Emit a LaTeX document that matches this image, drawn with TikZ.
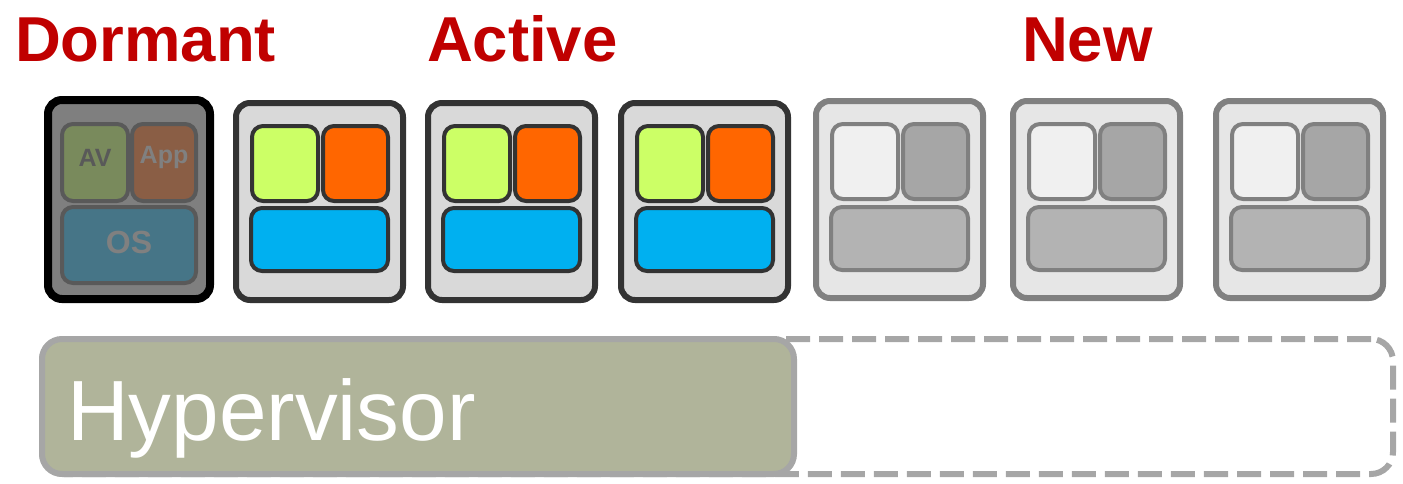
\documentclass[tikz,border=0pt]{standalone}
\usepackage{fontspec}
\setmainfont{Liberation Sans}
\definecolor{titlered}{HTML}{C00000}
\definecolor{dk}{HTML}{333333}
\definecolor{actbg}{HTML}{D9D9D9}
\definecolor{lime}{HTML}{CCFF66}
\definecolor{orng}{HTML}{FF6600}
\definecolor{sky}{HTML}{00B0F0}
\definecolor{newedge}{HTML}{808080}
\definecolor{newbg}{HTML}{E6E6E6}
\definecolor{newlight}{HTML}{F0F0F0}
\definecolor{newdark}{HTML}{A6A6A6}
\definecolor{newbot}{HTML}{B3B3B3}
\definecolor{dormbg}{HTML}{7F7F7F}
\definecolor{dormedge}{HTML}{595959}
\definecolor{avfill}{HTML}{798A5C}
\definecolor{appfill}{HTML}{8A5E45}
\definecolor{osfill}{HTML}{467587}
\definecolor{hypfill}{HTML}{B0B49A}
\definecolor{hypedge}{HTML}{A6A6A6}
\begin{document}
\begin{tikzpicture}[x=1pt,y=-1pt,
  every node/.style={inner sep=0pt, outer sep=0pt},
  titletext/.style={text=titlered, font=\fontsize{63.5}{63.5}\selectfont\bfseries, anchor=base west},
  frame/.style={rectangle, rounded corners=14pt, line width=6pt, minimum width=167pt, minimum height=197pt, anchor=north west},
  cell/.style={rectangle, rounded corners=11pt, line width=4pt, anchor=north west},
  topcell/.style={cell, minimum width=66pt, minimum height=75pt},
  botcell/.style={cell, minimum width=137pt, minimum height=63pt},
  dormlabel/.style={font=\bfseries\fontsize{25}{25}\selectfont}
]
\useasboundingbox (0,0) rectangle (1403,483);

% titles
\node[titletext] (tdorm) at (15,61) {Dormant};
\node[titletext] (tact) at (427,61) {Active};
\node[titletext] (tnew) at (1022,61) {New};

% dormant VM
\node[frame, draw=black, fill=dormbg, line width=8pt, minimum width=162pt, minimum height=199pt] (dorm) at (48,100) {};
\node[cell, draw=dormedge, fill=avfill, minimum width=66pt, minimum height=77pt] (dorm-av) at (62,124) {};
\node[cell, draw=dormedge, fill=appfill, minimum width=64pt, minimum height=77pt] (dorm-app) at (132,124) {};
\node[cell, draw=dormedge, fill=osfill, minimum width=134pt, minimum height=76pt] (dorm-os) at (62,207) {};
\node[dormlabel, text=dormedge] (lav) at ([yshift=5pt]dorm-av.center) {AV};
\node[dormlabel, text=newedge] (lapp) at ([yshift=5pt]dorm-app.center) {App};
\node[dormlabel, text=newedge, font=\bfseries\fontsize{32}{32}\selectfont] (los) at ([yshift=3pt]dorm-os.center) {OS};

% active VMs
\foreach \L/\n in {233/b2,425/b3,618/b4}{
  \node[frame, draw=dk, fill=actbg] (\n) at (\L+3,103) {};
  \node[topcell, draw=dk, fill=lime] (\n-g) at (\L+19,126) {};
  \node[topcell, draw=dk, fill=orng, minimum width=65pt] (\n-o) at (\L+90,126) {};
  \node[botcell, draw=dk, fill=sky] (\n-b) at (\L+18,208) {};
}

% new VMs
\foreach \L/\n in {813/b5,1010/b6,1213/b7}{
  \node[frame, draw=newedge, fill=newbg] (\n) at (\L+3,101) {};
  \node[topcell, draw=newedge, fill=newlight] (\n-g) at (\L+19,124) {};
  \node[topcell, draw=newedge, fill=newdark, minimum width=65pt] (\n-o) at (\L+90,124) {};
  \node[botcell, draw=newedge, fill=newbot] (\n-b) at (\L+18,207) {};
}

% hypervisor
\node[rectangle, draw=hypedge, line width=6pt, dash pattern=on 24pt off 9pt, rounded corners=22pt,
      minimum width=1351pt, minimum height=135pt, anchor=north west] (slot) at (42,339) {};
\node[rectangle, draw=hypedge, fill=hypfill, line width=6pt, rounded corners=20pt,
      minimum width=752pt, minimum height=135pt, anchor=north west] (hyp) at (42,339) {};
\node[anchor=base west, text=white, font=\fontsize{85.5}{85.5}\selectfont] (hyptext) at (67,440) {Hypervisor};
\end{tikzpicture}
\end{document}
